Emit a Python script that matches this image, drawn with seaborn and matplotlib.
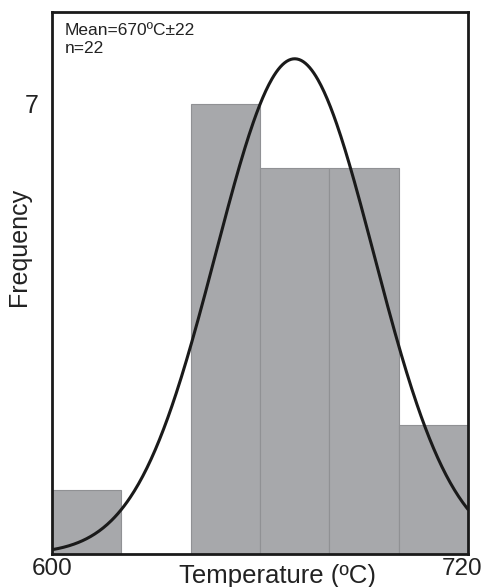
import numpy as np
import matplotlib
matplotlib.use("Agg")
import matplotlib.pyplot as plt
import matplotlib.transforms as mtransforms
import seaborn as sns

# histogram data
bin_edges = [600, 620, 640, 660, 680, 700, 720]
counts = [1, 0, 7, 6, 6, 2]
bin_centers = [610, 630, 650, 670, 690, 710]

# fitted normal curve
mean_t = 670
sd_label = 22
sd_fit = 22.8
n_samples = 22
bin_width = 20

sns.set_style("white")
plt.rcParams["font.family"] = ["Liberation Sans", "DejaVu Sans"]

fig = plt.figure(figsize=(4.87, 5.87), dpi=100)
ax = fig.add_axes([0.107, 0.056, 0.854, 0.924])

sns.histplot(x=bin_centers, weights=counts, bins=bin_edges, ax=ax,
             color="#a7a8ab", alpha=1, edgecolor="#909194", linewidth=0.8)

xs = np.linspace(600, 720, 400)
ys = n_samples * bin_width / (sd_fit * np.sqrt(2 * np.pi)) * np.exp(-0.5 * ((xs - mean_t) / sd_fit) ** 2)
sns.lineplot(x=xs, y=ys, ax=ax, color="#1a1a1a", linewidth=2.2)

ax.set_xlim(600, 720)
ax.set_ylim(0, 8.43)
ax.set_xticks([600, 720])
ax.set_xticklabels(["600", "720"], fontsize=17.5, color="#222222")
ax.set_yticks([7])
ax.set_yticklabels(["7"], fontsize=18, color="#222222")
ax.tick_params(length=0, pad=10)
ax.tick_params(axis="x", pad=3)

# nudge the right-hand label inward like the original
lbl = ax.get_xticklabels()[1]
lbl.set_transform(lbl.get_transform() + mtransforms.ScaledTranslation(-6 / 100, 0, fig.dpi_scale_trans))

ax.set_xlabel("Temperature (ºC)", fontsize=18.5, color="#222222")
ax.xaxis.set_label_coords(0.541, -0.018)
ax.set_ylabel("Frequency", fontsize=18, color="#222222")
ax.yaxis.set_label_coords(-0.05, 0.566)

for side in ax.spines.values():
    side.set_visible(True)
    side.set_color("#1a1a1a")
    side.set_linewidth(2)

ax.text(0.031, 0.98, f"Mean={mean_t}ºC±{sd_label}\nn={n_samples}", transform=ax.transAxes,
        ha="left", va="top", fontsize=12.5, color="#222222", linespacing=1.25)

fig.savefig("out.png", dpi=100)
